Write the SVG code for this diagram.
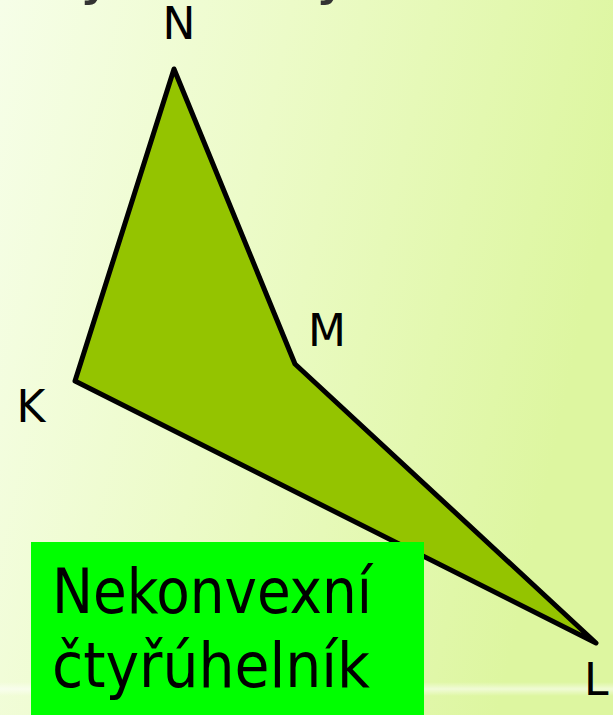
<svg xmlns="http://www.w3.org/2000/svg" width="613" height="715" viewBox="0 0 613 715">
  <defs>
    <linearGradient id="bg" x1="0" y1="0" x2="1" y2="0.25">
      <stop offset="0" stop-color="#f6fee8"/>
      <stop offset="0.45" stop-color="#ecfbc8"/>
      <stop offset="1" stop-color="#ddf6a0"/>
    </linearGradient>
    <linearGradient id="band" x1="0" y1="0" x2="0" y2="1">
      <stop offset="0" stop-color="#ffffff" stop-opacity="0"/>
      <stop offset="0.5" stop-color="#ffffff" stop-opacity="0.55"/>
      <stop offset="1" stop-color="#ffffff" stop-opacity="0"/>
    </linearGradient>
    <style>
      .lbl { font-family: "DejaVu Sans", "Liberation Sans", sans-serif; font-size: 44px; fill: #000; }
      .big { font-family: "DejaVu Sans Condensed", "DejaVu Sans", sans-serif; font-size: 62px; fill: #000; }
      .frag { font-family: "DejaVu Sans", sans-serif; font-size: 60px; fill: #333; }
    </style>
  </defs>
  <rect x="0" y="0" width="613" height="715" fill="url(#bg)"/>
  <rect x="0" y="682" width="613" height="14" fill="url(#band)"/>

  <text class="frag" x="80" y="-8">y</text>
  <text class="frag" x="316" y="-8">y</text>

  <g id="quad">
    <polygon points="174,69 295,364 596,643 75,381" fill="#94c400" stroke="#000" stroke-width="5" stroke-linejoin="round"/>
  </g>

  <g id="N"><text class="lbl" x="179" y="39" text-anchor="middle">N</text></g>
  <g id="M"><text class="lbl" x="327" y="346" text-anchor="middle">M</text></g>
  <g id="K"><text class="lbl" x="31" y="422" text-anchor="middle">K</text></g>
  <g id="L"><text class="lbl" x="584" y="695">L</text></g>

  <g id="caption">
    <rect x="31" y="542" width="393" height="173" fill="#00ff00"/>
    <text class="big" x="52" y="613" textLength="320" lengthAdjust="spacingAndGlyphs">Nekonvexní</text>
    <text class="big" x="52" y="687" textLength="318" lengthAdjust="spacingAndGlyphs">čtyřúhelník</text>
  </g>
</svg>
